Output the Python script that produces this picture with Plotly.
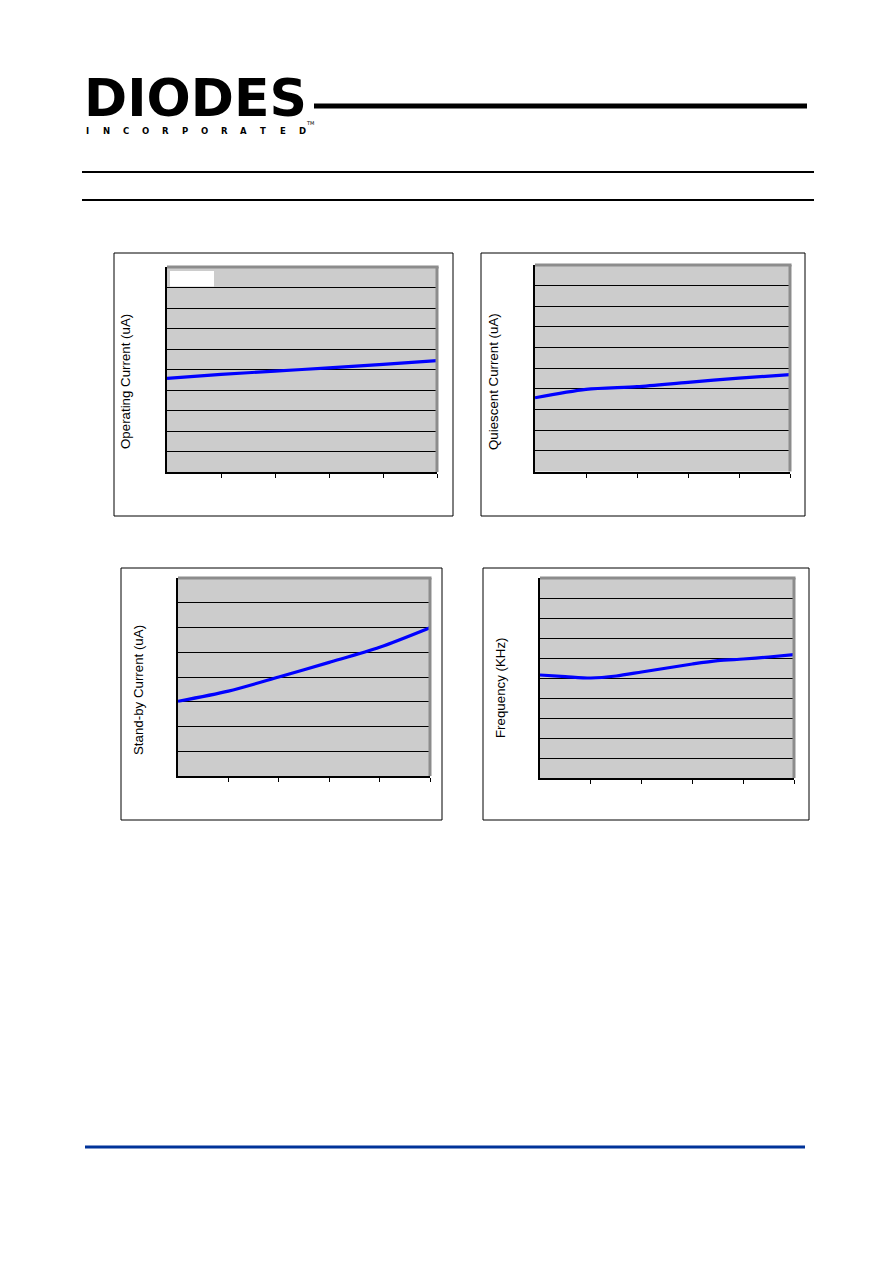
import plotly.graph_objects as go

W, H = 892, 1263
OFF = 8  # default page body margin in the browser

# ---- data ----
x_pts = [0, 1, 2, 3, 4, 5]
operating_current = [4.57, 4.76, 4.92, 5.08, 5.25, 5.43]
quiescent_current = [3.57, 3.98, 4.11, 4.32, 4.52, 4.69]
standby_current = [3.02, 3.43, 4.00, 4.59, 5.20, 5.99]
x_freq = [0, 0.5, 1, 1.5, 2, 2.5, 3, 3.5, 4, 4.5, 5]
frequency = [5.15, 5.07, 5.00, 5.10, 5.30, 5.50, 5.70, 5.87, 5.95, 6.05, 6.17]

axis_titles = ["Operating Current (uA)", "Quiescent Current (uA)",
               "Stand-by Current (uA)", "Frequency (KHz)"]
y_max = [10, 10, 8, 10]
x_tickvals = [1, 2, 3, 4, 5]
logo_word = "DIODES"
logo_sub = "INCORPORATED"

series_x = [x_pts, x_pts, x_pts, x_freq]
series_y = [operating_current, quiescent_current, standby_current, frequency]

# ---- layout geometry (page pixels) ----
plot_boxes = [(167, 437, 267, 472), (535, 790, 265, 471.5),
              (178, 430, 578, 776), (540, 794, 578, 778)]
frames = [(114, 453, 253, 516), (481, 805, 253, 516),
          (121, 442, 568, 820), (483, 809, 568, 820)]
title_pos = [(126, 382), (493, 381), (139, 690), (500, 688)]


def px(x):
    return (x - OFF) / W


def py(y):
    return 1 - (y - OFF) / H


fig = go.Figure()
shapes = []
annotations = []

for i in range(4):
    n = i + 1
    xs = "" if n == 1 else str(n)
    x0, x1, y0, y1 = plot_boxes[i]
    fig.add_trace(go.Scatter(
        x=series_x[i], y=series_y[i], mode="lines",
        line=dict(color="#0000ff", width=3.2, shape="spline", smoothing=0.8),
        xaxis="x" + xs, yaxis="y" + xs, showlegend=False, hoverinfo="skip"))
    fig.layout["xaxis" + xs] = dict(
        domain=[px(x0), px(x1)], range=[0, 5], anchor="y" + xs,
        showgrid=False, zeroline=False, showline=True, linecolor="black",
        linewidth=2, ticks="outside", ticklen=4, tickwidth=1,
        tickcolor="black", tickvals=x_tickvals, showticklabels=False,
        fixedrange=True)
    fig.layout["yaxis" + xs] = dict(
        domain=[py(y1), py(y0)], range=[0, y_max[i]], anchor="x" + xs,
        dtick=1, showgrid=True, gridcolor="black", gridwidth=1,
        zeroline=False, showline=True, linecolor="black", linewidth=2,
        showticklabels=False, ticks="", fixedrange=True)
    # gray top / right plot-area borders
    shapes.append(dict(type="line", xref="x" + xs + " domain",
                       yref="y" + xs + " domain", x0=0, x1=1.006, y0=1, y1=1,
                       line=dict(color="#8c8c8c", width=3), layer="above"))
    shapes.append(dict(type="line", xref="x" + xs + " domain",
                       yref="y" + xs + " domain", x0=1, x1=1, y0=0, y1=1,
                       line=dict(color="#8c8c8c", width=3), layer="above"))
    # outer frame
    fx0, fx1, fy0, fy1 = frames[i]
    shapes.append(dict(type="rect", xref="paper", yref="paper",
                       x0=px(fx0), x1=px(fx1), y0=py(fy1), y1=py(fy0),
                       line=dict(color="black", width=1)))
    tx, ty = title_pos[i]
    annotations.append(dict(
        text=axis_titles[i], x=px(tx), y=py(ty), xref="paper", yref="paper",
        showarrow=False, textangle=-90, xanchor="center", yanchor="middle",
        font=dict(family="Liberation Sans", size=13.3, color="black")))

# white legend box in first chart
shapes.append(dict(type="rect", xref="paper", yref="paper",
                   x0=px(170), x1=px(214), y0=py(286.5), y1=py(271),
                   fillcolor="white", line=dict(width=0), layer="above"))

# header / footer rules
shapes.append(dict(type="line", xref="paper", yref="paper",
                   x0=px(314), x1=px(807), y0=py(106), y1=py(106),
                   line=dict(color="black", width=5)))
for yy in (172, 200):
    shapes.append(dict(type="line", xref="paper", yref="paper",
                       x0=px(82), x1=px(814), y0=py(yy), y1=py(yy),
                       line=dict(color="black", width=2)))
shapes.append(dict(type="line", xref="paper", yref="paper",
                   x0=px(85), x1=px(805), y0=py(1147), y1=py(1147),
                   line=dict(color="#003399", width=3)))

# logo
annotations.append(dict(
    text=logo_word, x=px(83), y=py(97.5), xref="paper", yref="paper",
    showarrow=False, xanchor="left", yanchor="middle", height=42,
    borderpad=0,
    font=dict(family="DejaVu Sans", size=52, color="black", weight="bold")))
for k, ch in enumerate(logo_sub):
    annotations.append(dict(
        text=ch, x=px(87 + k * 19.6), y=py(131.5), xref="paper", yref="paper",
        showarrow=False, xanchor="center", yanchor="middle", borderpad=0,
        font=dict(family="DejaVu Sans", size=8.5, color="black", weight="bold")))
annotations.append(dict(
    text="TM", x=px(310), y=py(123), xref="paper", yref="paper",
    showarrow=False, xanchor="center", yanchor="middle", borderpad=0,
    font=dict(family="DejaVu Sans", size=5, color="black")))

fig.update_layout(
    width=W, height=H, margin=dict(l=0, r=0, t=0, b=0),
    paper_bgcolor="white", plot_bgcolor="#cccccc",
    shapes=shapes, annotations=annotations, showlegend=False)

fig.write_html("out.html")
